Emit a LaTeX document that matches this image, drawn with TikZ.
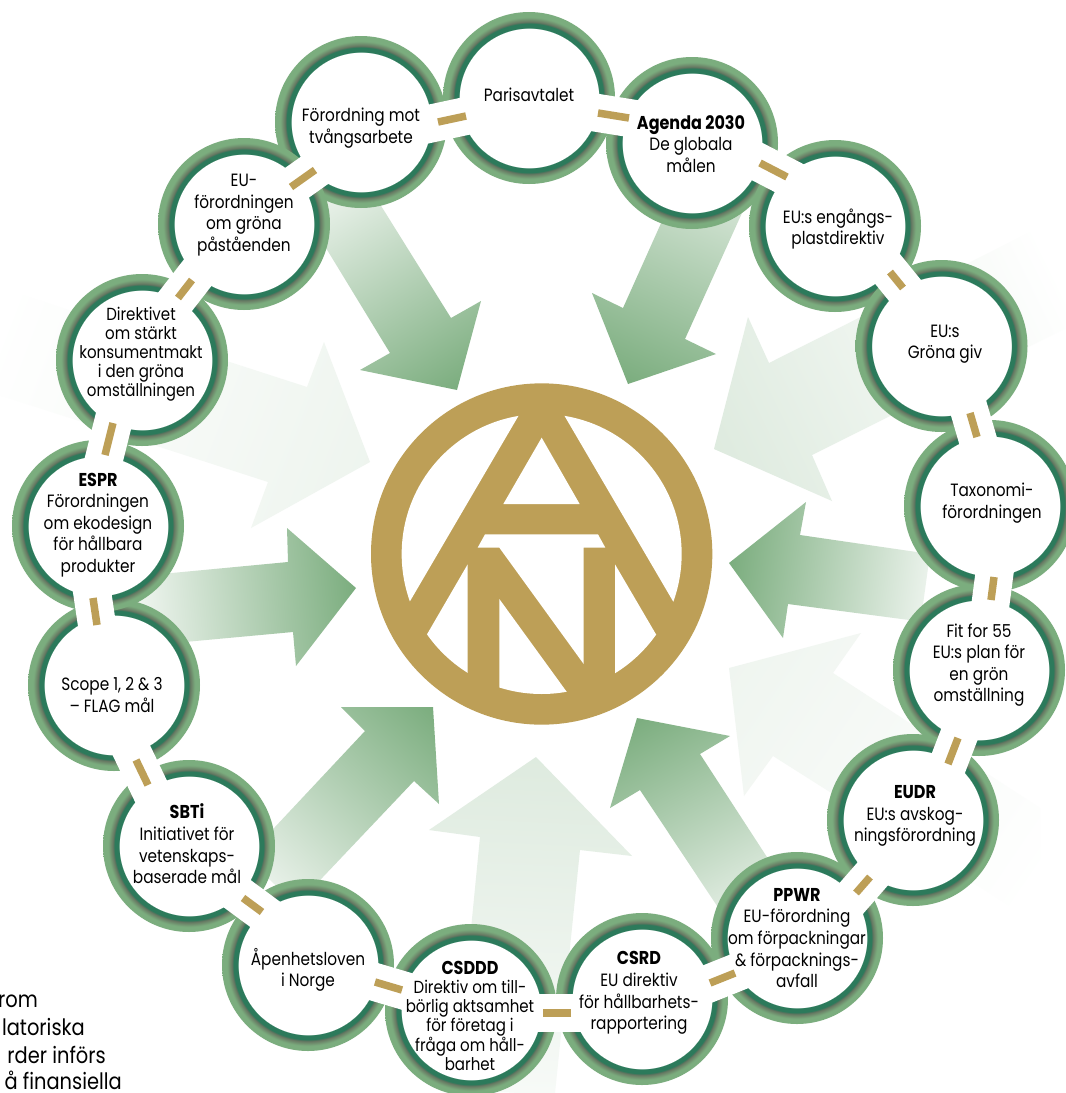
\documentclass[tikz,border=0pt]{standalone}
\usepackage{fontspec}
\setmainfont{Poppins}[FakeStretch=0.86]
\definecolor{gold}{HTML}{BD9F57}
\definecolor{lg}{HTML}{7BAD7E}
\definecolor{dk}{HTML}{2C7A5B}
\definecolor{br}{HTML}{64705E}
\pgfdeclareradialshading{ringshade}{\pgfpoint{0bp}{0bp}}{color(0bp)=(white); color(20.35bp)=(white); color(20.4bp)=(dk); color(21.85bp)=(dk); color(21.95bp)=(br); color(23.5bp)=(lg); color(25bp)=(lg); color(50bp)=(lg)}
\newcommand{\gradarrow}[7]{%
  \begin{scope}
    \clip #1 -- cycle;
    \pgfmathsetmacro\gang{atan2(-(#5-#3),#4-#2)}
    \pgfmathsetmacro\glen{veclen(#4-#2,#5-#3)}
    \begin{scope}[transform canvas={shift={(#2,#3)},rotate=\gang}]
      \shade[left color=#6,right color=#7] (0,-400) rectangle (\glen,400);
    \end{scope}
  \end{scope}}
\newcommand{\hd}[1]{{\bfseries\fontsize{18.6}{21.6}\selectfont #1}}
\newcommand{\hdt}[1]{{\bfseries\fontsize{18.6}{18.9}\selectfont #1}}
\tikzset{
  ringnode/.style={circle,inner sep=0pt,minimum size=172pt,shade,shading=ringshade},
  txt/.style={align=center,inner sep=0pt,font=\fontsize{17.8}{21.6}\selectfont},
  tighttxt/.style={align=center,inner sep=0pt,font=\fontsize{17.5}{18.9}\selectfont},
  sidetxt/.style={anchor=base east,inner sep=0pt,font=\fontsize{22.6}{28}\selectfont},
  gapband/.style={draw=white,line width=38pt,shorten <=-22pt,shorten >=-22pt},
  golddash/.style={draw=gold,line width=7.5pt}
}
\begin{document}
\begin{tikzpicture}[x=1pt,y=-1pt]
\useasboundingbox (0,0) rectangle (1066,1093);
\fill[white] (0,0) rectangle (1066,1093);
% arrows
\gradarrow{(265,148)--(390,353)--(360,370)--(457,390)--(481,301)--(451,318)--(330,124)}{310}{156}{457}{390}{white}{lg}
\gradarrow{(697,143)--(623,308)--(592,293)--(628,384)--(716,354)--(685,339)--(775,140)}{716}{185}{628}{384}{lg!30!white}{lg}
\gradarrow{(98,580)--(288,562)--(287,528)--(356,588)--(296,666)--(293,632)--(98,650)}{130}{610}{356}{588}{lg!8!white}{lg}
\gradarrow{(230,875)--(365,731)--(341,707)--(433,707)--(439,804)--(414,781)--(250,954)}{270}{880}{433}{707}{lg!18!white}{lg}
\gradarrow{(985,562)--(800,535)--(806,502)--(729,563)--(783,638)--(788,604)--(985,630)}{925}{590}{729}{563}{lg!16!white}{lg}
\gradarrow{(1066,214)--(769,363)--(748,317)--(714,449)--(832,501)--(812,455)--(1066,328)}{1060}{280}{714}{449}{white}{lg!25!white}
\gradarrow{(7,290)--(307,387)--(324,342)--(370,462)--(251,528)--(268,482)--(-32,385)}{0}{320}{370}{462}{white}{lg!13!white}
\gradarrow{(480,837)--(429,830)--(536,757)--(632,856)--(580,850)--(555,1093)--(455,1093)}{520}{1093}{536}{757}{lg!6!white}{lg!25!white}
\gradarrow{(640,790)--(610,808)--(637,718)--(730,736)--(700,754)--(815,931)--(755,963)}{745}{915}{637}{718}{lg!18!white}{lg}
\gradarrow{(833,673)--(861,633)--(729,668)--(744,796)--(773,756)--(1040,925)--(1040,808)}{1040}{880}{729}{668}{white}{lg!12!white}
% logo
\begin{scope}[shift={(370pt,-390pt)},x=.33333pt,y=-.33333pt]
  \fill[gold] (515,492) circle (512);
  \begin{scope}
    \clip (515,492) circle (420);
    \fill[white] (87,690)--(478,22)--(478,-100)--(-100,-100)--(-100,690)--cycle;
    \fill[white] (942,690)--(551,22)--(551,-100)--(1130,-100)--(1130,690)--cycle;
    \fill[white] (293,523)--(293,1000)--(-50,1000)--(-50,733)--(171,733)--cycle;
    \fill[white] (735,523)--(735,1000)--(1100,1000)--(1100,733)--(858,733)--cycle;
    \fill[white] (388,627)--(653,992)--(388,992)--cycle;
  \end{scope}
  \fill[white] (515,143)--(400,342)--(629,342)--cycle;
  \fill[white] (345,433)--(684,433)--(706,473)--(641,473)--(641,822)--(388,473)--(323,473)--cycle;
\end{scope}
% circles
\node[ringnode] (paris) at (529,98) {};
\node[ringnode] (forced) at (361,122) {};
\node[ringnode] (agenda) at (692,143) {};
\node[ringnode] (plast) at (835,226) {};
\node[ringnode] (giv) at (941.5,346) {};
\node[ringnode] (tax) at (990,506) {};
\node[ringnode] (fit) at (979,670) {};
\node[ringnode] (eudr) at (913,820) {};
\node[ringnode] (ppwr) at (797,938) {};
\node[ringnode] (csrd) at (642,999) {};
\node[ringnode] (csddd) at (471,1010) {};
\node[ringnode] (apen) at (308,965) {};
\node[ringnode] (sbti) at (189,846) {};
\node[ringnode] (scope) at (114,685) {};
\node[ringnode] (espr) at (98,526) {};
\node[ringnode] (dir) at (142,360) {};
\node[ringnode] (green) at (244,224) {};
% links
\foreach \i/\xa/\ya/\xb/\yb in {
  1/598/113/629/118, 2/760/163/787/177, 3/890/272/903/288, 4/970/413/977/437,
  5/994/577/991/600, 6/958/738/948/764, 7/870/877/856/893, 8/735/973/710/983,
  9/571/1013/543/1013, 10/402/990/375/982, 11/262/912/243/898, 12/148/785/136/760,
  13/97/625/93/598, 14/113/423/105/455, 15/192/280/178/298, 16/315/170/291/187,
  17/466/116/438/122}{
  \coordinate (a\i) at (\xa,\ya);
  \coordinate (b\i) at (\xb,\yb);
  \draw[gapband] (a\i) -- (b\i);
}
\foreach \i in {1,...,17}{\draw[golddash] (a\i) -- (b\i);}
% texts
\node[txt] (tparis) at (529,95) {Parisavtalet};
\node[txt] (tagenda) at (691,144) {\hd{Agenda 2030}\\De globala\\målen};
\node[txt] (tplast) at (838,229) {EU:s engångs-\\plastdirektiv};
\node[txt] (tgiv) at (945,344) {EU:s\\Gröna giv};
\node[txt] (ttax) at (992,503) {Taxonomi-\\förordningen};
\node[txt] (tfit) at (979,665) {Fit for 55\\EU:s plan för\\en grön\\omställning};
\node[txt] (teudr) at (915,816) {\hd{EUDR}\\EU:s avskog-\\ningsförordning};
\node[txt] (tppwr) at (797,938) {\hd{PPWR}\\EU-förordning\\om förpackningar\\\& förpacknings-\\avfall};
\node[txt] (tcsrd) at (639,993) {\hd{CSRD}\\EU direktiv\\för hållbarhets-\\rapportering};
\node[tighttxt] (tcsddd) at (470,1016) {\hdt{CSDDD}\\Direktiv om till-\\börlig aktsamhet\\för företag i\\fråga om håll-\\barhet};
\node[txt] (tapen) at (308,970) {Åpenhetsloven\\i Norge};
\node[txt] (tsbti) at (187,844) {\hd{SBTi}\\Initiativet för\\vetenskaps-\\baserade mål};
\node[txt] (tscope) at (112,695) {Scope 1, 2 \& 3\\– FLAG mål};
\node[txt] (tespr) at (98,525) {\hd{ESPR}\\Förordningen\\om ekodesign\\för hållbara\\produkter};
\node[tighttxt] (tdir) at (141,354) {Direktivet\\om stärkt\\konsumentmakt\\i den gröna\\omställningen};
\node[txt] (tgreen) at (244,215) {EU-\\förordningen\\om gröna\\påståenden};
\node[txt] (tforced) at (361,128) {Förordning mot\\tvångsarbete};
% side text
\node[sidetxt] (s1) at (38,1007) {rom};
\node[sidetxt] (s2) at (85,1035) {latoriska};
\node[sidetxt] (s3) at (106,1063) {rder införs};
\node[sidetxt] (s4) at (122,1089) {å finansiella};
\end{tikzpicture}
\end{document}
